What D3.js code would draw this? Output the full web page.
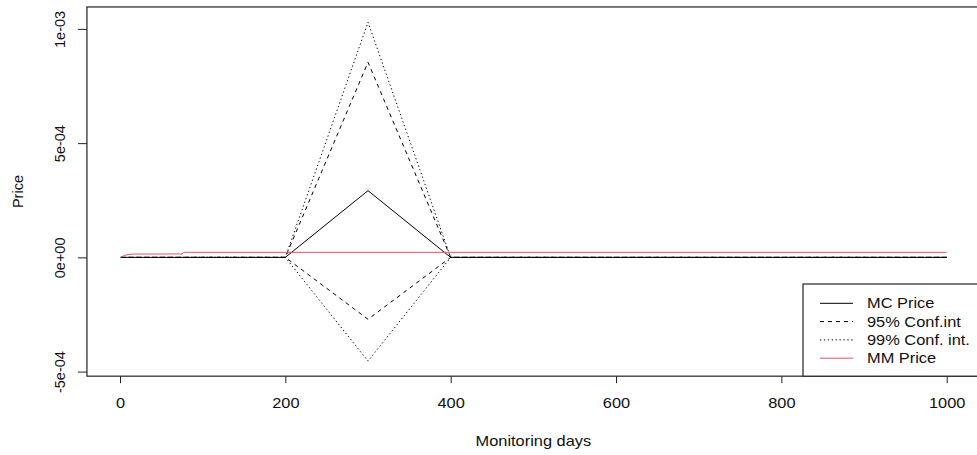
<!DOCTYPE html>
<html><head><meta charset="utf-8">
<script src="https://cdn.jsdelivr.net/npm/d3@7"></script>
<style>
body{margin:0;background:#fff;}
svg{display:block;font-family:"Liberation Sans",Arial,sans-serif;}
</style></head>
<body><svg id="c" width="977" height="455"></svg>
<script>
// Data
const mcDays = [1, 200, 300, 400, 1000];
const mcPrice = [0, 0, 2.92e-4, 0, 0];
const ci95Upper = [0, 0, 8.54e-4, 0, 0];
const ci95Lower = [0, 0, -2.71e-4, 0, 0];
const ci99Upper = [0, 0, 1.029e-3, 0, 0];
const ci99Lower = [0, 0, -4.54e-4, 0, 0];
const mmDays = [1, 5, 10, 16, 75, 77, 200, 300, 400, 1000];
const mmPrice = [0, 0.8e-5, 1.25e-5, 1.45e-5, 1.5e-5, 2.2e-5, 2.2e-5, 2.2e-5, 2.2e-5, 2.2e-5];
const xTicks = [0, 200, 400, 600, 800, 1000];
const yTicks = [-5e-4, 0, 5e-4, 1e-3];
const yTickLabels = ["-5e-04", "0e+00", "5e-04", "1e-03"];
const legendLabels = ["MC Price", "95% Conf.int", "99% Conf. int.", "MM Price"];

(function () {
const svg = d3.select("#c");
const x = d3.scaleLinear().domain([0, 1000]).range([120, 946.7]);
const y = d3.scaleLinear().domain([-5e-4, 1e-3]).range([371.6, 28.9]);
const xlim = [-40, 1040], ylim = [-5.2e-4, 1.096e-3];
const pL = x(xlim[0]), pR = x(xlim[1]), pT = y(ylim[1]), pB = y(ylim[0]);
const FS = 14.5, SX = 1.13;

const line = d3.line().x(d => x(d[0])).y(d => y(d[1]));
function draw(days, vals, color, dash) {
  svg.append("path").datum(days.map((d, i) => [d, vals[i]]))
    .attr("d", line).attr("fill", "none").attr("stroke", color)
    .attr("stroke-width", 1).attr("stroke-dasharray", dash);
}
draw(mcDays, ci99Upper, "#000", "1.3,2.6");
draw(mcDays, ci99Lower, "#000", "1.3,2.6");
draw(mcDays, ci95Upper, "#000", "4,4");
draw(mcDays, ci95Lower, "#000", "4,4");
draw(mcDays, mcPrice, "#000", null);
draw(mmDays, mmPrice, "#DF536B", null);

// box
svg.append("rect").attr("x", pL).attr("y", pT).attr("width", pR - pL).attr("height", pB - pT)
  .attr("fill", "none").attr("stroke", "#222").attr("stroke-width", 1.2);

// x axis
const gx = svg.append("g").attr("transform", `translate(0,${pB})`)
  .call(d3.axisBottom(x).tickValues(xTicks).tickSize(7).tickFormat(d3.format("d")));
gx.select(".domain").remove();
gx.selectAll("line").attr("stroke", "#222");
gx.selectAll("text").attr("y", null).attr("dy", null)
  .attr("transform", "translate(0,32) scale(" + SX + ",1)")
  .attr("font-size", FS).attr("font-family", "Liberation Sans, Arial, sans-serif").attr("fill", "#111");

// y axis
const gy = svg.append("g").attr("transform", `translate(${pL},0)`)
  .call(d3.axisLeft(y).tickValues(yTicks).tickSize(9).tickFormat((d, i) => yTickLabels[i]));
gy.select(".domain").remove();
gy.selectAll("line").attr("stroke", "#222");
gy.selectAll("text").attr("x", null).attr("dy", null).attr("text-anchor", "middle")
  .attr("transform", "translate(-22,0) rotate(-90)")
  .attr("font-size", FS).attr("font-family", "Liberation Sans, Arial, sans-serif").attr("fill", "#111");

// axis titles
svg.append("text").attr("transform", `translate(${(pL + pR) / 2},446) scale(${SX},1)`)
  .attr("text-anchor", "middle").attr("font-size", FS).attr("fill", "#111").text("Monitoring days");
svg.append("text").attr("transform", `translate(23,${(pT + pB) / 2}) rotate(-90)`)
  .attr("text-anchor", "middle").attr("font-size", FS).attr("fill", "#111").text("Price");

// legend
const lg = svg.append("g");
lg.append("rect").attr("x", 803).attr("y", 284).attr("width", 200).attr("height", pB - 284)
  .attr("fill", "#fff").attr("stroke", "#222").attr("stroke-width", 1.2);
const lgStyles = [["#000", null], ["#000", "4,4"], ["#000", "1.3,2.6"], ["#DF536B", null]];
legendLabels.forEach((lab, i) => {
  const cy = 303.3 + i * 18.3;
  lg.append("line").attr("x1", 820).attr("x2", 853).attr("y1", cy).attr("y2", cy)
    .attr("stroke", lgStyles[i][0]).attr("stroke-dasharray", lgStyles[i][1]).attr("stroke-width", 1);
  lg.append("text").attr("transform", `translate(867,${cy + 5}) scale(${SX},1)`)
    .attr("font-size", FS).attr("fill", "#111").text(lab);
});
})();
</script>
</body></html>
